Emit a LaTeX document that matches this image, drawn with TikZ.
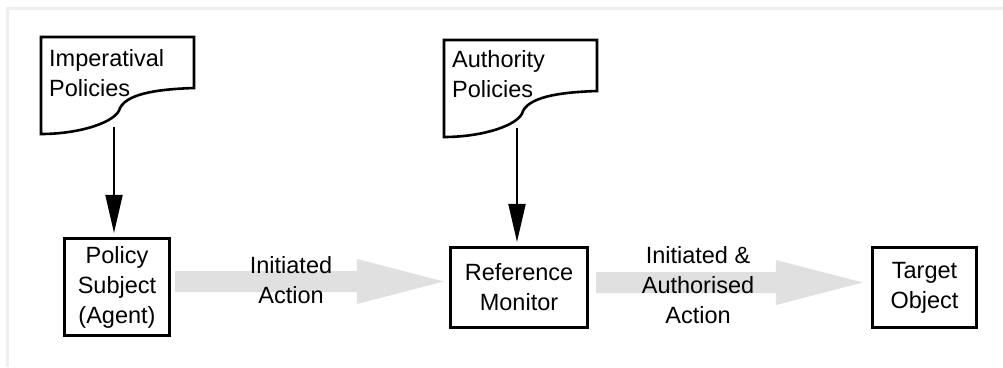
\documentclass[tikz,border=0pt]{standalone}
\usepackage{fontspec}
\setmainfont{Liberation Sans}
\usetikzlibrary{arrows.meta,calc}
\definecolor{framegray}{RGB}{238,238,238}
\definecolor{flowgray}{RGB}{224,224,224}

% wide grey block arrow from #1 to the tip #2
\newcommand\flowarrow[2]{%
  \fill[flowgray] let \p1=(#1), \p2=(#2) in
    (\x1,{\y1+10.5pt}) -- ({\x2-87pt},{\y1+10.5pt}) -- ({\x2-87pt},{\y1+22.5pt})
    -- (\x2,\y1) -- ({\x2-87pt},{\y1-22.5pt}) -- ({\x2-87pt},{\y1-10.5pt})
    -- (\x1,{\y1-10.5pt}) -- cycle;}

% policy document outline with a wavy lower edge, top-left corner at #1
\newcommand\policydoc[1]{%
  \draw[docline, shift={(#1)}] (0,97) -- (0,0) -- (153,0) -- (153,51)
    .. controls (124,52) and (87,55) .. (79,71)
    .. controls (76,85) and (39,97) .. (0,97) -- cycle;}

\begin{document}
\begin{tikzpicture}[x=1pt,y=-1pt,
  every node/.style={font=\fontsize{23.5}{30}\selectfont},
  entity/.style={draw, line width=2.6pt, align=center, inner sep=0pt},
  docline/.style={line width=2.6pt, line join=miter, fill=white},
  policylink/.style={line width=2pt, -{Triangle[length=38pt,width=17pt]}, shorten >=4pt},
  flowlabel/.style={align=center, inner sep=0pt},
  doclabel/.style={anchor=north west, align=left, inner sep=0pt}
]
\useasboundingbox (0,0) rectangle (1003,367);
\draw[framegray, line width=3pt] (7,367) -- (7,8) -- (1003,8);

% policy documents
\policydoc{41,37}
\policydoc{444,40}
\node[doclabel] (imp-text) at (49,49) {Imperatival\\Policies};
\node[doclabel] (auth-text) at (452,50) {Authority\\Policies};
\coordinate (imp-foot) at (114,127);
\coordinate (auth-foot) at (517,128);

% entities
\node[entity, minimum width=105.5pt, minimum height=97.5pt] (subject) at (117,287) {Policy\\Subject\\(Agent)};
\node[entity, minimum width=137.5pt, minimum height=80.5pt] (monitor) at (519,287.5) {Reference\\Monitor};
\node[entity, minimum width=104.5pt, minimum height=80.5pt] (target) at (924.5,287.5) {Target\\Object};

% policies applied to the entities
\draw[policylink] (imp-foot) -- (imp-foot |- subject.north);
\draw[policylink] (auth-foot) -- (auth-foot |- monitor.north);

% action flow
\coordinate (a1s) at ($(subject.east)+(4,-5.5)$);
\coordinate (a1e) at ($(monitor.west)+(-5,-6)$);
\coordinate (a2s) at ($(monitor.east)+(7,-5)$);
\coordinate (a2e) at ($(target.west)+(-8,-5.5)$);
\flowarrow{a1s}{a1e}
\flowarrow{a2s}{a2e}
\node[flowlabel] (lbl1) at (291,280.5) {Initiated\\Action};
\node[flowlabel] (lbl2) at (698,285) {Initiated \&\\Authorised\\Action};
\end{tikzpicture}
\end{document}
